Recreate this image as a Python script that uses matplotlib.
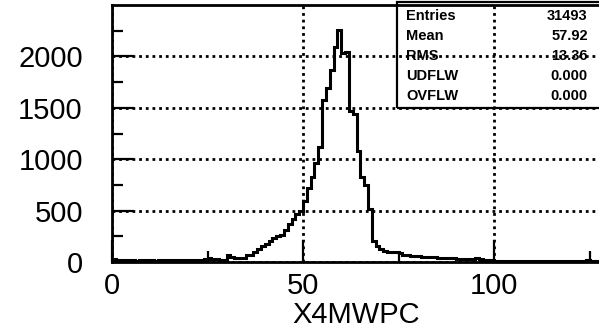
import numpy as np
import matplotlib.pyplot as plt
from matplotlib.patches import Rectangle

plt.rcParams['font.family'] = ['Liberation Sans', 'DejaVu Sans']

# histogram X4MWPC, bins of width 1 from 0 to 128
left_tail = [28, 22, 18, 15, 20, 17, 14, 18, 22, 19, 16, 14, 18, 20, 17,
             15, 19, 22, 18, 16, 20, 24, 21, 19, 25, 35, 28, 25, 22, 20,
             68, 50, 38, 35, 36, 65, 68]
rise = [95, 130, 160, 175, 200, 230, 250, 265, 310, 370, 420, 465, 500,
        590, 720, 830, 960, 1120]
peak = [1576, 1690, 1870, 2090, 2260, 2030, 2045, 1470, 1440]
fall = [1080, 830, 750, 520, 200]
right_tail = [160, 125, 105, 100, 100, 95, 85, 72, 68, 62, 58, 58, 52, 50,
              52, 48, 40, 38, 36, 35, 36, 33, 32, 28, 26, 28, 38, 30, 22,
              18, 15, 12,
              10, 9, 11, 8, 10, 9, 8, 10, 9, 11, 8, 9, 10, 8, 9, 10, 8, 9,
              8, 10, 9, 8, 12, 15, 10, 8, 7]

counts = np.array(left_tail + rise + peak + fall + right_tail)
bin_edges = np.arange(0, len(counts) + 1)

# statistics box
stat_names = ['Entries', 'Mean', 'RMS', 'UDFLW', 'OVFLW']
stat_values = ['31493', '57.92', '13.36', '0.000', '0.000']

fig = plt.figure(figsize=(5.99, 3.32), dpi=100)
ax = fig.add_axes([112 / 599, 1 - 262 / 332, 489 / 599, 257 / 332])

ax.stairs(counts, bin_edges, color='black', linewidth=2.2, zorder=3)

ax.set_xlim(0, 128)
ax.set_ylim(0, 2500)
ax.set_xticks([0, 50, 100])
ax.set_xticks([25, 75, 125], minor=True)
ax.set_yticks([0, 500, 1000, 1500, 2000])
ax.set_yticks([250, 750, 1250, 1750, 2250], minor=True)

ax.tick_params(which='major', direction='in', length=16, width=1.6,
               labelsize=21, colors='black')
ax.tick_params(which='minor', direction='in', length=8, width=1.6)
ax.tick_params(axis='y', which='major', pad=21)
ax.tick_params(axis='x', which='major', pad=7)

ax.grid(True, which='major', color='black', linestyle=(0, (1, 1.4)),
        linewidth=2)

for side in ax.spines.values():
    side.set_linewidth(2)

ax.set_xlabel('X4MWPC', fontsize=21, labelpad=1)

# stats box in the upper right corner
ax.add_patch(Rectangle((0.583, 0.6), 0.42, 0.41, transform=ax.transAxes,
                       fill=False, edgecolor='black', linewidth=1.6,
                       clip_on=False, zorder=4))
row_y = [0.957, 0.879, 0.802, 0.724, 0.646]
for name, value, y in zip(stat_names, stat_values, row_y):
    ax.text(0.601, y, name, transform=ax.transAxes, fontsize=10.5,
            fontweight='bold', va='center', ha='left')
    ax.text(0.973, y, value, transform=ax.transAxes, fontsize=10.5,
            fontweight='bold', va='center', ha='right')

plt.savefig('out.png', dpi=100)
